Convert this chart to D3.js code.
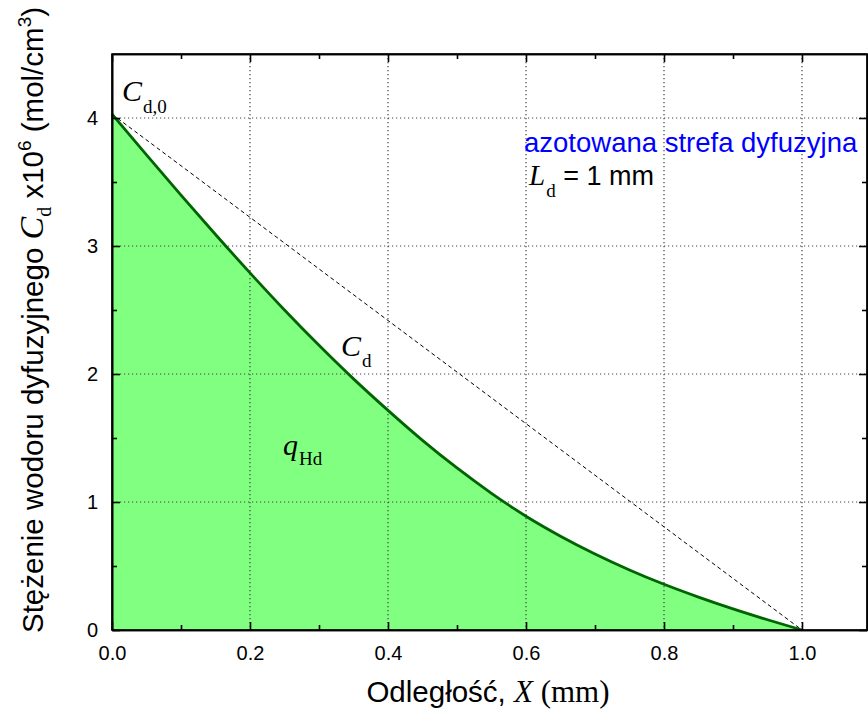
<!DOCTYPE html>
<html><head><meta charset="utf-8">
<script src="https://cdn.jsdelivr.net/npm/d3@7"></script>
<style>body{margin:0;background:#fff}svg{display:block}</style>
</head><body>
<svg id="c" width="868" height="718"></svg>
<script>
// data
const xPos = [0, 0.05, 0.1, 0.15, 0.2, 0.25, 0.3, 0.35, 0.4, 0.45, 0.5, 0.55, 0.6, 0.65, 0.7, 0.75, 0.8, 0.85, 0.9, 0.95, 1.0];
const cdVals = [4.03, 3.712, 3.398, 3.090, 2.790, 2.500, 2.224, 1.962, 1.716, 1.482, 1.266, 1.068, 0.889, 0.733, 0.594, 0.469, 0.357, 0.257, 0.165, 0.080, 0.0];
const linearX = [0, 1.0];
const linearY = [4.03, 0];
const xTicks = [0, 0.2, 0.4, 0.6, 0.8, 1.0];
const xMinor = [0.1, 0.3, 0.5, 0.7, 0.9];
const yTicks = [0, 1, 2, 3, 4];
const yMinor = [0.5, 1.5, 2.5, 3.5];

(function () {
const svg = d3.select("#c");
const L = 112, R = 867, T = 54, B = 630;
const x = d3.scaleLinear().domain([0, 1.0942]).range([L, R]);
const y = d3.scaleLinear().domain([0, 4.5]).range([B, T]);
const serif = "Liberation Serif, Times New Roman, serif";
const sans = "Liberation Sans, Arial, sans-serif";

const pts = xPos.map((d, i) => [d, cdVals[i]]);
svg.append("path")
  .attr("d", d3.area().x(d => x(d[0])).y0(y(0)).y1(d => y(d[1])).curve(d3.curveMonotoneX)(pts))
  .attr("fill", "#80ff80");

const g = svg.append("g").attr("stroke", "#444").attr("stroke-width", 1.2).attr("stroke-dasharray", "1.2,2.8");
xTicks.filter(d => d > 0).forEach(d => g.append("line").attr("x1", x(d)).attr("x2", x(d)).attr("y1", T).attr("y2", B));
yTicks.filter(d => d > 0).forEach(d => g.append("line").attr("x1", L).attr("x2", R).attr("y1", y(d)).attr("y2", y(d)));

svg.append("path")
  .attr("d", d3.line().x(d => x(d[0])).y(d => y(d[1]))(linearX.map((d, i) => [d, linearY[i]])))
  .attr("fill", "none").attr("stroke", "#000").attr("stroke-width", 1).attr("stroke-dasharray", "4,3");

svg.append("path")
  .attr("d", d3.line().x(d => x(d[0])).y(d => y(d[1])).curve(d3.curveMonotoneX)(pts))
  .attr("fill", "none").attr("stroke", "#006400").attr("stroke-width", 2.8);

const tickFmt = d3.format(".1f");
const ax = svg.append("g");
const axes = [];
axes.push(ax.append("g").attr("transform", `translate(0,${B})`)
  .call(d3.axisBottom(x).tickValues(xTicks).tickFormat(tickFmt).tickSizeInner(-8).tickSizeOuter(0).tickPadding(16)));
axes.push(ax.append("g").attr("transform", `translate(0,${B})`)
  .call(d3.axisBottom(x).tickValues(xMinor).tickFormat("").tickSizeInner(-5).tickSizeOuter(0)));
axes.push(ax.append("g").attr("transform", `translate(0,${T})`)
  .call(d3.axisTop(x).tickValues(xTicks).tickFormat("").tickSizeInner(-8).tickSizeOuter(0)));
axes.push(ax.append("g").attr("transform", `translate(0,${T})`)
  .call(d3.axisTop(x).tickValues(xMinor).tickFormat("").tickSizeInner(-5).tickSizeOuter(0)));
axes.push(ax.append("g").attr("transform", `translate(${L},0)`)
  .call(d3.axisLeft(y).tickValues(yTicks).tickFormat(d3.format("d")).tickSizeInner(-8).tickSizeOuter(0).tickPadding(14)));
axes.push(ax.append("g").attr("transform", `translate(${L},0)`)
  .call(d3.axisLeft(y).tickValues(yMinor).tickFormat("").tickSizeInner(-5).tickSizeOuter(0)));
axes.push(ax.append("g").attr("transform", `translate(${R},0)`)
  .call(d3.axisRight(y).tickValues(yTicks).tickFormat("").tickSizeInner(-8).tickSizeOuter(0)));
axes.push(ax.append("g").attr("transform", `translate(${R},0)`)
  .call(d3.axisRight(y).tickValues(yMinor).tickFormat("").tickSizeInner(-5).tickSizeOuter(0)));
axes.forEach(a => a.attr("font-size", 20).attr("font-family", sans));
ax.selectAll(".domain").attr("stroke", "#000").attr("stroke-width", 1.6);
ax.selectAll(".tick line").attr("stroke", "#000").attr("stroke-width", 1.6);
ax.selectAll(".tick text").attr("fill", "#000");
svg.append("rect").attr("x", L).attr("y", T).attr("width", R - L).attr("height", B - T)
  .attr("fill", "none").attr("stroke", "#000").attr("stroke-width", 1.6);

const t1 = svg.append("text").attr("x", 122).attr("y", 101).attr("font-family", serif).attr("font-size", 30);
t1.append("tspan").attr("font-style", "italic").text("C");
t1.append("tspan").attr("font-size", 19).attr("dy", 12).attr("dx", 1).text("d,0");

svg.append("text").attr("x", 524).attr("y", 152).attr("font-family", sans).attr("font-size", 27.5)
  .attr("fill", "#0000ff").text("azotowana strefa dyfuzyjna");

const t2 = svg.append("text").attr("x", 529).attr("y", 185).attr("font-family", serif).attr("font-size", 29);
t2.append("tspan").attr("font-style", "italic").text("L");
t2.append("tspan").attr("font-size", 19).attr("dy", 12).attr("dx", 1).text("d");
t2.append("tspan").attr("font-family", sans).attr("font-size", 27).attr("dy", -12).text(" = 1 mm");

const t3 = svg.append("text").attr("x", 341).attr("y", 356).attr("font-family", serif).attr("font-size", 30);
t3.append("tspan").attr("font-style", "italic").text("C");
t3.append("tspan").attr("font-size", 19).attr("dy", 11).attr("dx", 1).text("d");

const t4 = svg.append("text").attr("x", 283).attr("y", 455).attr("font-family", serif).attr("font-size", 30);
t4.append("tspan").attr("font-style", "italic").text("q");
t4.append("tspan").attr("font-size", 19).attr("dy", 10).attr("dx", 1).text("Hd");

const xt = svg.append("text").attr("x", 488).attr("y", 702).attr("text-anchor", "middle").attr("font-size", 29.5).attr("font-family", sans);
xt.append("tspan").text("Odległość, ");
xt.append("tspan").attr("font-family", serif).attr("font-style", "italic").attr("font-size", 31).text("X");
xt.append("tspan").attr("font-family", serif).attr("font-size", 31).text(" (mm)");

const yt = svg.append("text").attr("transform", "translate(43,320) rotate(-90)").attr("text-anchor", "middle")
  .attr("font-family", sans).attr("font-size", 29.5);
yt.append("tspan").text("Stężenie wodoru dyfuzyjnego ");
yt.append("tspan").attr("font-family", serif).attr("font-style", "italic").attr("font-size", 34).text("C");
yt.append("tspan").attr("font-family", serif).attr("font-size", 20).attr("dy", 8).text("d");
yt.append("tspan").attr("dy", -8).text(" x10");
yt.append("tspan").attr("font-size", 19).attr("dy", -12).text("6");
yt.append("tspan").attr("dy", 12).text(" (mol/cm");
yt.append("tspan").attr("font-size", 19).attr("dy", -12).text("3");
yt.append("tspan").attr("dy", 12).text(")");
})();
</script>
</body></html>
